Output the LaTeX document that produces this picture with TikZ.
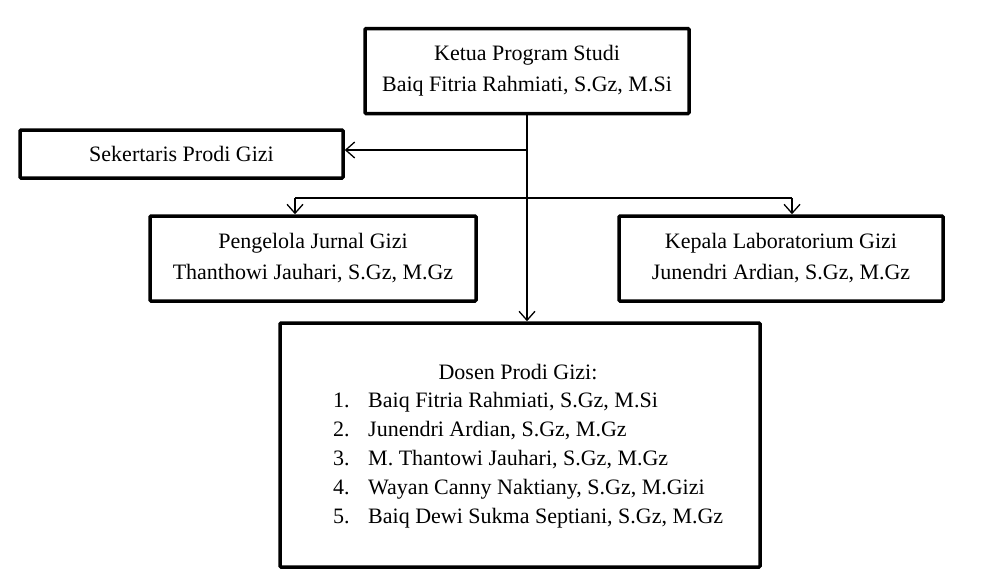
\documentclass[tikz,border=0pt]{standalone}
\usepackage{fontspec}
\setmainfont{Liberation Serif}
\usetikzlibrary{arrows.meta}
\begin{document}
\begin{tikzpicture}[x=1pt,y=-1pt,
  box/.style={draw=black,line width=3.5pt,rounded corners=1pt,align=center,inner sep=0pt,font=\fontsize{22}{31}\selectfont},
  conn/.style={draw=black,line width=1.3pt,-{Straight Barb[length=9pt,width=16pt,line width=1.3pt]}},
  txt/.style={inner sep=0pt,font=\fontsize{22}{26}\selectfont}]
\useasboundingbox (0,0) rectangle (981,573);
\node[box,minimum width=324pt,minimum height=85pt] (top) at (527,71) {Ketua Program Studi\\Baiq Fitria Rahmiati, S.Gz, M.Si};
\node[box,minimum width=323pt,minimum height=48pt,font=\fontsize{22}{26}\selectfont] (sek) at (181.5,154) {Sekertaris Prodi Gizi};
\node[box,minimum width=326pt,minimum height=85pt] (peng) at (313,258.5) {Pengelola Jurnal Gizi\\Thanthowi Jauhari, S.Gz, M.Gz};
\node[box,minimum width=324pt,minimum height=85pt] (kep) at (781,258.5) {Kepala Laboratorium Gizi\\Junendri Ardian, S.Gz, M.Gz};
\node[box,minimum width=480pt,minimum height=244pt] (dos) at (520,445) {};
\node[txt] (h) at (518,372) {Dosen Prodi Gizi:};
\foreach \i/\t [count=\k] in {1/{Baiq Fitria Rahmiati, S.Gz, M.Si},2/{Junendri Ardian, S.Gz, M.Gz},3/{M. Thantowi Jauhari, S.Gz, M.Gz},4/{Wayan Canny Naktiany, S.Gz, M.Gizi},5/{Baiq Dewi Sukma Septiani, S.Gz, M.Gz}}{
  \node[txt,anchor=base west] (n\i) at (333,{400+7+(\k-1)*29}) {\i.};
  \node[txt,anchor=base west] (l\i) at (368,{400+7+(\k-1)*29}) {\t};
}
\coordinate (j1) at (527,150);
\coordinate (j2) at (527,198);
\coordinate (bl) at (295,198);
\coordinate (br) at (792,198);
\draw[line width=1.3pt] (top.south) -- (j2);
\draw[conn] (top.south) -- (top.south |- dos.north);
\draw[conn] (j1) -- (j1 -| sek.east);
\draw[line width=1.3pt] (bl) -- (br);
\draw[conn] (bl) -- (bl |- peng.north);
\draw[conn] (br) -- (br |- kep.north);
\end{tikzpicture}
\end{document}
